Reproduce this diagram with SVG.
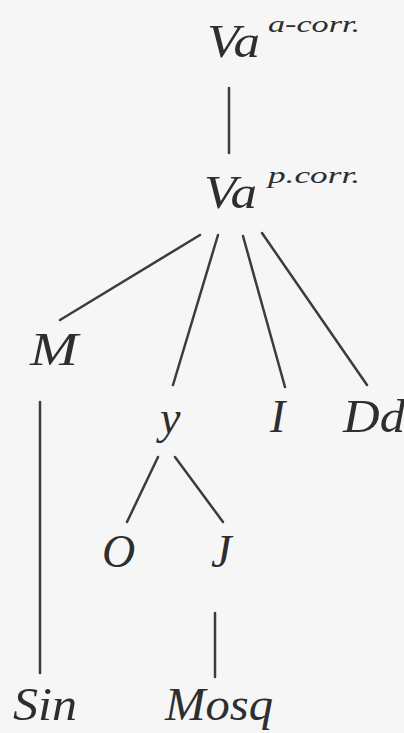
<svg xmlns="http://www.w3.org/2000/svg" width="404" height="733" viewBox="0 0 404 733">
<rect width="404" height="733" fill="#f6f6f6"/>
<g id="edges" stroke="#3c3c3c" stroke-width="2.5" fill="none" stroke-linecap="round">
<line x1="229" y1="88" x2="229" y2="153"/>
<line x1="200" y1="235" x2="60" y2="320"/>
<line x1="218" y1="235" x2="173" y2="385"/>
<line x1="243" y1="236" x2="285" y2="387"/>
<line x1="262" y1="233" x2="367" y2="385"/>
<line x1="40" y1="402" x2="40" y2="673"/>
<line x1="158" y1="457" x2="127" y2="522"/>
<line x1="175" y1="457" x2="223" y2="522"/>
<line x1="215" y1="613" x2="215" y2="677"/>
</g>
<g id="n-va-acorr" fill="#2e2e2e"><text x="207" y="57" font-family="Liberation Serif" font-style="italic" font-size="46" textLength="53" lengthAdjust="spacingAndGlyphs">Va</text><text x="268" y="32" font-family="Liberation Serif" font-style="italic" font-size="24" textLength="92" lengthAdjust="spacingAndGlyphs">a-corr.</text></g>
<g id="n-va-pcorr" fill="#2e2e2e"><text x="204" y="208" font-family="Liberation Serif" font-style="italic" font-size="46" textLength="53" lengthAdjust="spacingAndGlyphs">Va</text><text x="268" y="183" font-family="Liberation Serif" font-style="italic" font-size="24" textLength="92" lengthAdjust="spacingAndGlyphs">p.corr.</text></g>
<g id="n-M" fill="#2e2e2e"><text x="30" y="365" font-family="Liberation Serif" font-style="italic" font-size="46" textLength="48" lengthAdjust="spacingAndGlyphs">M</text></g>
<g id="n-y" fill="#2e2e2e"><text x="160" y="433" font-family="Liberation Serif" font-style="italic" font-size="46">y</text></g>
<g id="n-I" fill="#2e2e2e"><text x="270" y="432" font-family="Liberation Serif" font-style="italic" font-size="46">I</text></g>
<g id="n-Dd" fill="#2e2e2e"><text x="343" y="432" font-family="Liberation Serif" font-style="italic" font-size="46" textLength="62" lengthAdjust="spacingAndGlyphs">Dd</text></g>
<g id="n-O" fill="#2e2e2e"><text x="102" y="567" font-family="Liberation Serif" font-style="italic" font-size="46">O</text></g>
<g id="n-J" fill="#2e2e2e"><text x="211" y="567" font-family="Liberation Serif" font-style="italic" font-size="46">J</text></g>
<g id="n-Sin" fill="#2e2e2e"><text x="13" y="720" font-family="Liberation Serif" font-style="italic" font-size="46" textLength="64" lengthAdjust="spacingAndGlyphs">Sin</text></g>
<g id="n-Mosq" fill="#2e2e2e"><text x="165" y="720" font-family="Liberation Serif" font-style="italic" font-size="46" textLength="108" lengthAdjust="spacingAndGlyphs">Mosq</text></g>
</svg>
